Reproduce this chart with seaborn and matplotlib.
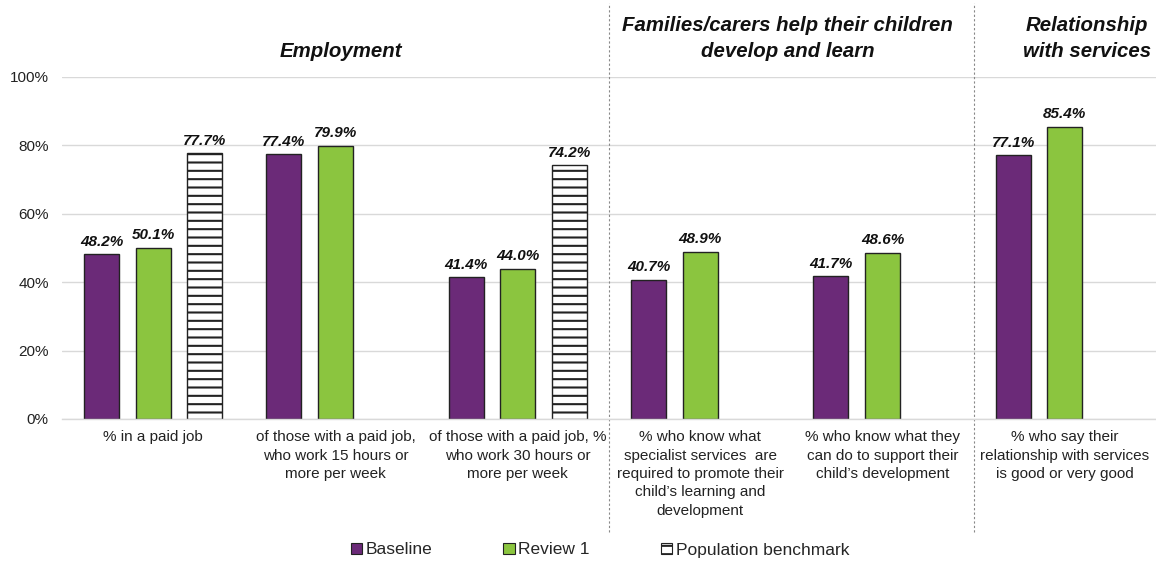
import matplotlib
matplotlib.use("Agg")
import matplotlib.pyplot as plt
import seaborn as sns
import pandas as pd
from matplotlib.ticker import FuncFormatter
from matplotlib.patches import Patch

categories = [
    "% in a paid job",
    "of those with a paid job,\nwho work 15 hours or\nmore per week",
    "of those with a paid job, %\nwho work 30 hours or\nmore per week",
    "% who know what\nspecialist services  are\nrequired to promote their\nchild\u2019s learning and\ndevelopment",
    "% who know what they\ncan do to support their\nchild\u2019s development",
    "% who say their\nrelationship with services\nis good or very good",
]
series = ["Baseline", "Review 1", "Population benchmark"]
baseline = [48.2, 77.4, 41.4, 40.7, 41.7, 77.1]
review1 = [50.1, 79.9, 44.0, 48.9, 48.6, 85.4]
benchmark = [77.7, None, 74.2, None, None, None]

sections = [
    ("Employment", 1.03),
    ("Families/carers help their children\ndevelop and learn", 3.48),
    ("Relationship\nwith services", 5.12),
]

purple = "#6B2A78"
green = "#8BC53F"

rows = []
for s, vals in zip(series, [baseline, review1, benchmark]):
    for c, v in zip(categories, vals):
        if v is not None:
            rows.append({"category": c, "series": s, "value": v})
df = pd.DataFrame(rows)

sns.set_theme(style="white")
plt.rcParams["font.family"] = ["Liberation Sans", "DejaVu Sans"]
plt.rcParams["hatch.linewidth"] = 1.5
plt.rcParams["hatch.color"] = "#333333"

fig = plt.figure(figsize=(11.56, 5.63), dpi=100)
ax = fig.add_axes([62 / 1156, 1 - 419 / 563, 1 - 62 / 1156, 342 / 563])

sns.barplot(
    data=df, x="category", y="value", hue="series",
    order=categories, hue_order=series,
    palette=[purple, green, "white"], saturation=1,
    width=0.85, gap=0.32, errorbar=None,
    edgecolor="#222222", linewidth=1.0,
    legend=False, ax=ax,
)

for cont, lvl in zip(ax.containers, series):
    if lvl == "Population benchmark":
        for bar in cont:
            bar.set_hatch("--")
    ax.bar_label(cont, fmt=lambda v: f"{v:.1f}%", padding=4,
                 fontsize=11, fontweight="bold", fontstyle="italic",
                 color="#111111")

ax.set_xlim(-0.5, len(categories) - 0.5)
ax.set_ylim(0, 100)
ax.set_yticks([0, 20, 40, 60, 80, 100])
ax.yaxis.set_major_formatter(FuncFormatter(lambda v, p: f"{v:.0f}%"))
ax.grid(axis="y", color="#D9D9D9", linewidth=1.0)
ax.set_axisbelow(True)
for side in ["top", "right", "left"]:
    ax.spines[side].set_visible(False)
ax.spines["bottom"].set_color("#D9D9D9")
ax.spines["bottom"].set_linewidth(1.0)
ax.set_xlabel("")
ax.set_ylabel("")
ax.tick_params(axis="y", labelsize=11, pad=9.5, length=0, labelcolor="#222222")
ax.tick_params(axis="x", labelsize=11, pad=8, length=0, labelcolor="#222222")
for lbl in ax.get_xticklabels():
    lbl.set_linespacing(1.4)

# dotted section separators
for xsep in [2.5, 4.5]:
    ax.axvline(xsep, ymin=-0.33, ymax=1.215, clip_on=False,
               color="#888888", linewidth=0.8, linestyle=(0, (2, 2)))

# section headings
for title, xc in sections:
    ax.text(xc, 1.047, title, transform=ax.get_xaxis_transform(),
            ha="center", va="bottom", fontsize=14.7, fontweight="bold",
            fontstyle="italic", color="#111111", linespacing=1.45)

handles = [
    Patch(facecolor=purple, edgecolor="#222222", linewidth=0.8),
    Patch(facecolor=green, edgecolor="#222222", linewidth=0.8),
    Patch(facecolor="white", edgecolor="#222222", linewidth=0.8, hatch="--"),
]
fig.legend(handles, series, loc="center", bbox_to_anchor=(600 / 1156, 1 - 550 / 563),
           ncol=3, frameon=False, fontsize=12.5, handlelength=0.65,
           handleheight=0.65, handletextpad=0.2, columnspacing=4.1)

fig.savefig("out.png", dpi=100)
